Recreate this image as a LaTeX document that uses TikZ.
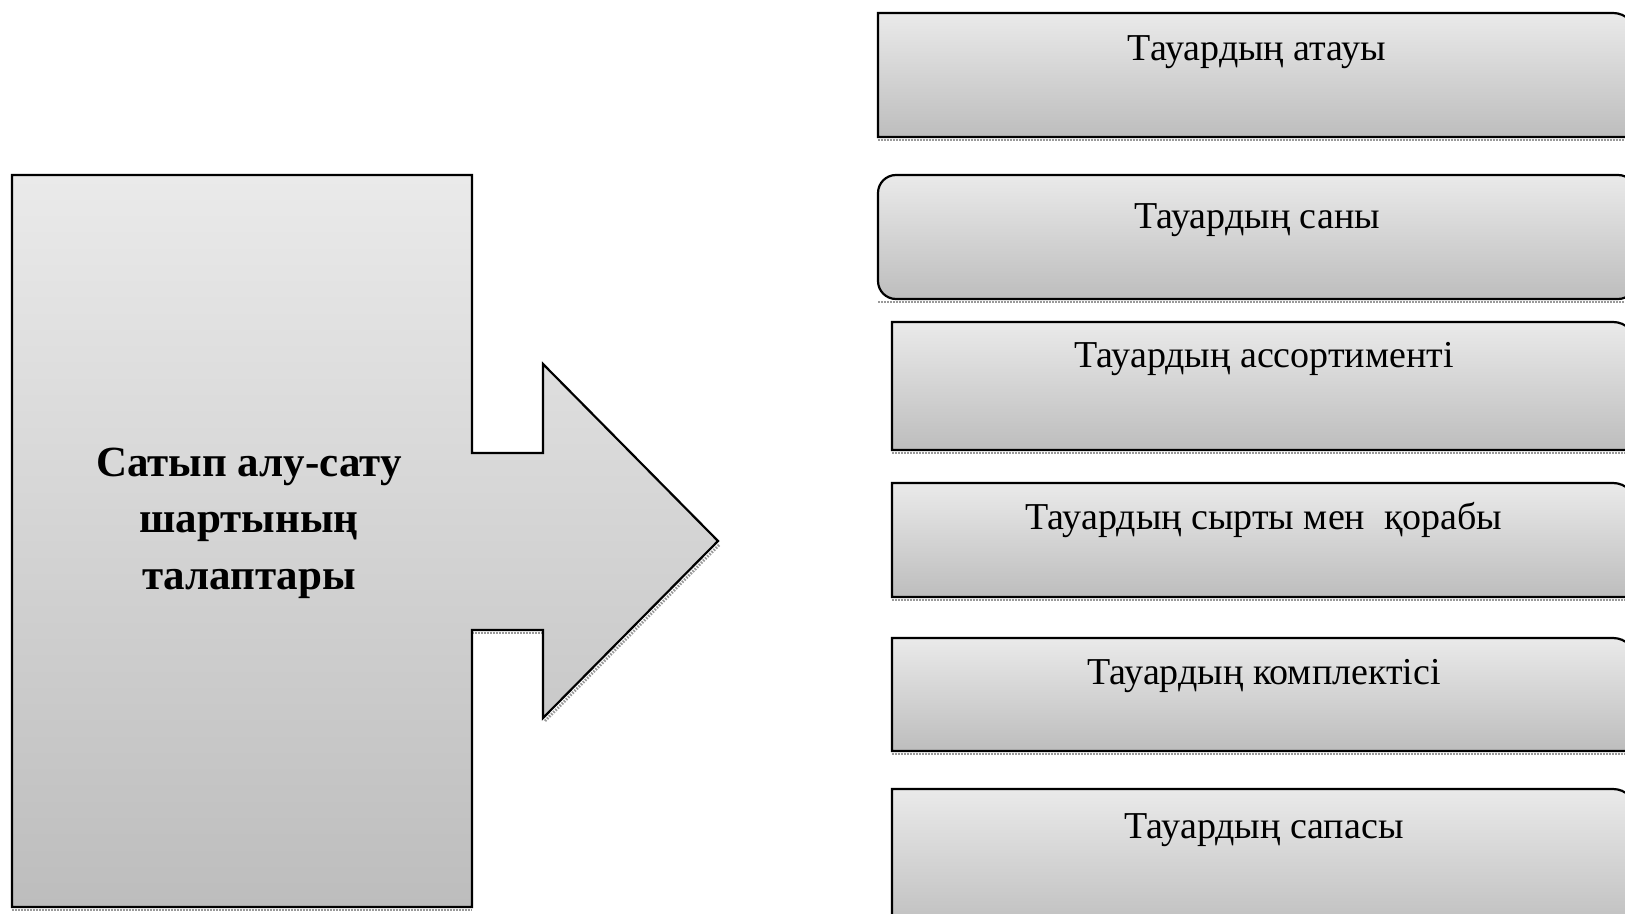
\documentclass[tikz,border=0pt]{standalone}
\usepackage{fontspec}
\setmainfont{Liberation Serif}
\definecolor{gtop}{RGB}{234,234,234}
\definecolor{gbot}{RGB}{189,189,189}
\tikzset{
  boxshape/.style={draw=black, line width=1.1pt, top color=gtop, bottom color=gbot},
  shadowline/.style={draw=gray!80, line width=1.4pt, dash pattern=on 0.8pt off 0.7pt},
  itemtext/.style={font=\fontsize{19}{23}\selectfont, anchor=base, inner sep=0pt},
  maintext/.style={font=\bfseries\fontsize{21.5}{28.25}\selectfont, align=center, inner sep=0pt}
}
% left, top, bottom of a box whose top-right corner alone is rounded
\newcommand\singlebox[3]{%
  \draw[shadowline] (#1,{#3+3}) -- (1636,{#3+3});
  \path[boxshape] (#1,#3) -- (#1,#2) -- ({1636-23},#2)
    .. controls ({1636-10.3},#2) and (1636,{#2+10.3}) .. (1636,{#2+23})
    -- (1636,#3) -- cycle;
}
\begin{document}
\begin{tikzpicture}[x=0.5pt, y=-0.5pt]
\useasboundingbox (0,0) rectangle (1625,914);
\clip (0,0) rectangle (1625,914);
\fill[white] (0,0) rectangle (1625,914);

% main shape: rectangle with a right arrow
\draw[shadowline] (12,910) -- (472,910);
\draw[shadowline] (472,633) -- (543,633);
\draw[shadowline] (545,721) -- (720,544);
\path[boxshape] (12,175) -- (472,175) -- (472,453) -- (543,453) -- (543,364)
  -- (718,541) -- (543,718) -- (543,630) -- (472,630) -- (472,907)
  -- (12,907) -- cycle;
\node[maintext] (main) at (249,523) {Сатып алу-сату\\шартының\\талаптары};

% right boxes
\singlebox{878}{13}{137}
\node[itemtext] (t1) at (1257,61) {Тауардың атауы};

\draw[shadowline] (878,302) -- (1636,302);
\path[boxshape, rounded corners=9pt] (878,175) rectangle (1636,299);
\node[itemtext] (t2) at (1257,229) {Тауардың саны};

\singlebox{892}{322}{450}
\node[itemtext] (t3) at (1264,367) {Тауардың ассортименті};

\singlebox{892}{483}{597}
\node[itemtext] (t4) at (1264,529) {Тауардың сырты мен\ \ қорабы};

\singlebox{892}{638}{751}
\node[itemtext] (t5) at (1264,684) {Тауардың комплектісі};

\singlebox{892}{789}{935}
\node[itemtext] (t6) at (1264,838) {Тауардың сапасы};
\end{tikzpicture}
\end{document}
